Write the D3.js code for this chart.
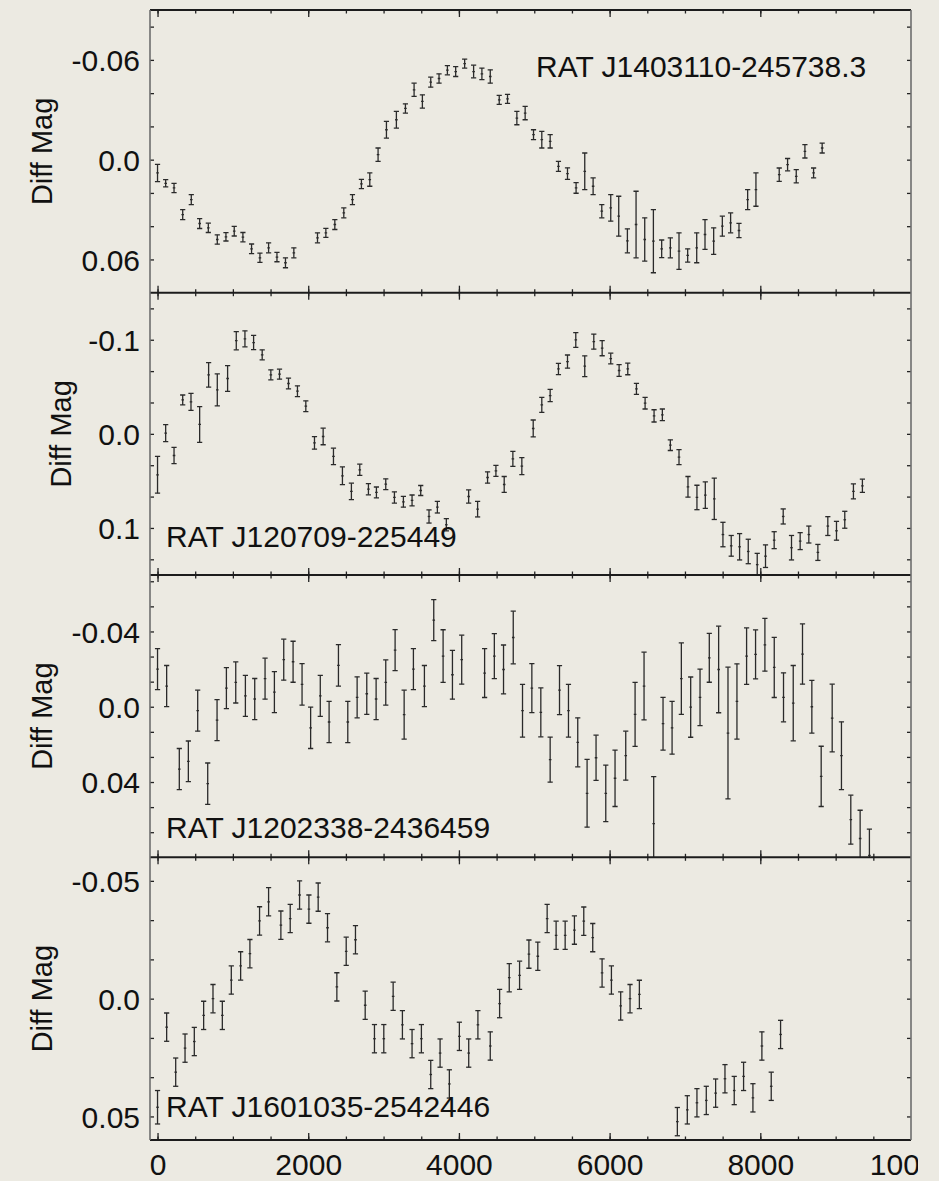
<!DOCTYPE html>
<html>
<head>
<meta charset="utf-8">
<script src="https://cdn.jsdelivr.net/npm/d3@7"></script>
<style>
  html, body { margin: 0; padding: 0; background: #ECEAE2; }
  svg { display: block; }
  text { font-family: "Liberation Sans", Arial, Helvetica, sans-serif; fill: #111; }
</style>
</head>
<body>
<svg id="chart" width="939" height="1181"></svg>
<script>
// ---- Light curves: time (s), differential magnitude, 1-sigma error ----
const p1Name = "RAT J1403110-245738.3";
const p1Time = [0,108,219,334,448,559,674,793,908,1018,1133,1248,1359,1474,1585,1698,1809,
  2123,2234,2353,2472,2587,2706,2817,2927,3038,3170,3290,3405,3515,3626,3736,3847,3957,4076,
  4195,4305,4416,
  4535,4645,4769,4879,4990,5100,5211,5321,5441,5555,5670,5781,5896,6015,6121,6236,6351,6466,6581,6691,6806,6921,7036,7156,7266,7381,7496,7606,7717,7832,7942,
  8251,8362,8477,8592,8707,8821];
const p1Mag = [0.008,0.0142,0.017,0.033,0.024,0.0384,0.041,0.048,0.0464,0.043,0.0466,0.0536,0.059,0.053,0.0586,0.062,0.056,
  0.047,0.044,0.039,0.032,0.024,0.0146,0.012,-0.003,-0.018,-0.024,-0.0308,-0.042,-0.035,-0.0466,-0.0488,-0.0538,-0.053,-0.0578,
  -0.053,-0.0516,-0.05,
  -0.036,-0.0366,-0.025,-0.028,-0.015,-0.012,-0.011,0.004,0.0084,0.017,0.007,0.016,0.031,0.029,0.034,0.0488,0.039,0.048,0.049,0.0536,0.053,0.055,0.0576,0.053,0.045,0.049,0.04,0.038,0.0426,0.024,0.018,
  0.009,0.003,0.01,-0.005,0.008,-0.007];
const p1Err = [0.0052,0.0022,0.0028,0.003,0.003,0.003,0.0028,0.0028,0.0025,0.0029,0.0028,0.0029,0.0028,0.003,0.0028,0.003,0.003,
  0.003,0.0027,0.003,0.003,0.003,0.0028,0.004,0.004,0.005,0.005,0.0028,0.004,0.004,0.003,0.0028,0.0028,0.003,0.0027,
  0.0038,0.0035,0.004,
  0.0027,0.0027,0.004,0.004,0.003,0.005,0.004,0.003,0.0035,0.0032,0.011,0.005,0.004,0.008,0.012,0.0072,0.02,0.013,0.019,0.0053,0.006,0.011,0.004,0.009,0.009,0.008,0.006,0.006,0.0043,0.006,0.01,
  0.004,0.0037,0.004,0.004,0.003,0.003];

const p2Name = "RAT J120709-225449";
const p2Time = [0,108,219,334,444,559,678,793,930,1045,1160,1275,1389,1504,1619,1738,1857,1968,2083,2198,2335,2454,2573,2684,2799,2905,3029,3144,3263,3378,3493,3603,3714,3833,
  4129,4248,4380,4491,4601,4716,4835,4986,5100,5211,5321,5441,5551,5670,5790,5901,6015,6126,6241,6356,6471,6590,6700,6806,6921,7040,7159,7270,7389,7504,7614,7725,7840,7959,8069,8184,8304,8414,8529,8644,8764,8896,9011,9121,9236,9355];
const p2Mag = [0.0435,-0.0007,0.023,-0.036,-0.034,-0.01,-0.0627,-0.0467,-0.0588,-0.099,-0.101,-0.097,-0.084,-0.0627,-0.0634,-0.0535,-0.0453,-0.0294,0.0096,0.0028,0.024,0.0446,0.0612,0.0382,0.0588,0.0623,0.0535,0.0676,0.0722,0.0708,0.0602,0.0878,0.0779,0.0966,
  0.0666,0.08,0.0464,0.0393,0.0538,0.0266,0.0343,-0.0057,-0.0308,-0.0407,-0.069,-0.0768,-0.0998,-0.0719,-0.098,-0.091,-0.08,-0.0673,-0.069,-0.0478,-0.0326,-0.0191,-0.0202,0.012,0.0248,0.0563,0.0676,0.0651,0.069,0.107,0.119,0.12,0.125,0.139,0.13,0.113,0.0878,0.121,0.114,0.107,0.126,0.098,0.103,0.0913,0.0612,0.0552];
const p2Err = [0.0195,0.009,0.0087,0.0053,0.009,0.019,0.013,0.017,0.0136,0.0097,0.0085,0.0076,0.0053,0.0053,0.0053,0.0058,0.0057,0.0057,0.0067,0.0088,0.0088,0.0094,0.0088,0.006,0.006,0.0058,0.0057,0.006,0.0057,0.0058,0.0053,0.007,0.0062,0.0065,
  0.007,0.0083,0.006,0.0058,0.0085,0.008,0.009,0.009,0.008,0.0065,0.006,0.007,0.0078,0.011,0.008,0.008,0.0057,0.0062,0.0062,0.0058,0.0062,0.0065,0.0062,0.0057,0.008,0.011,0.013,0.014,0.022,0.013,0.011,0.014,0.013,0.012,0.012,0.009,0.008,0.013,0.009,0.009,0.0085,0.01,0.01,0.009,0.008,0.007];

const p3Name = "RAT J1202338-2436459";
const p3Time = [0,121,289,409,533,666,790,914,1038,1166,1290,1427,1551,1675,1799,1918,2032,2160,2277,2401,2525,2649,2777,2901,3029,3153,3273,3396,3542,3666,3790,3914,4037,
  4341,4470,4592,4721,4844,4968,5087,5211,5335,5454,5577,5701,5820,5949,6072,6214,6338,6457,6585,6709,6829,6952,7076,7200,7323,7447,7571,7690,7818,7937,8061,8185,8308,8437,8560,8684,8808,8954,9077,9201,9325,9448];
const p3Mag = [-0.02,-0.011,0.0331,0.029,0.0021,0.0409,0.0071,-0.0099,-0.0129,-0.0058,-0.0041,-0.0149,-0.0078,-0.025,-0.0239,-0.0119,0.0112,-0.0058,0.0081,-0.022,0.0081,-0.005,-0.0069,-0.0041,-0.0129,-0.0301,0.0042,-0.02,-0.011,-0.046,-0.0269,-0.017,-0.025,
  -0.0179,-0.0269,-0.0198,-0.0368,0.0021,-0.0099,0.003,0.0281,-0.0088,0.0021,0.0189,0.046,0.0271,0.046,0.038,0.026,0.0041,-0.011,0.0621,0.009,0.0112,-0.0149,0.0002,-0.005,-0.026,-0.0198,0.014,-0.0028,-0.0269,-0.0278,-0.0329,-0.0209,-0.005,-0.0019,-0.028,0,0.037,0.006,0.026,0.06,0.07,0.079];
const p3Err = [0.0109,0.0109,0.0109,0.0108,0.0109,0.011,0.0109,0.0109,0.0109,0.0109,0.0109,0.0109,0.0109,0.0109,0.0109,0.011,0.011,0.0109,0.011,0.011,0.011,0.0109,0.011,0.0109,0.012,0.0109,0.013,0.0109,0.0109,0.0109,0.014,0.013,0.013,
  0.013,0.012,0.013,0.014,0.014,0.013,0.013,0.012,0.013,0.014,0.013,0.018,0.012,0.015,0.015,0.013,0.017,0.018,0.025,0.014,0.014,0.019,0.016,0.015,0.013,0.023,0.035,0.02,0.015,0.013,0.014,0.016,0.013,0.02,0.016,0.014,0.016,0.018,0.018,0.013,0.015,0.014];

const p4Name = "RAT J1601035-2542446";
const p4Time = [0,121,241,365,488,612,736,860,979,1103,1226,1354,1474,1637,1761,1885,2009,2132,2256,2380,2504,2627,2756,2879,3003,3127,3250,3378,3502,3626,3750,3873,4006,4130,
  4252,4416,4540,4668,4805,4929,5047,5171,5290,5410,5533,5657,5776,5900,6024,6147,6271,6395,
  6899,7031,7159,7283,7407,7531,7654,7778,7902,8021,8145,8269];
const p4Mag = [0.0461,0.0121,0.0312,0.021,0.0182,0.0071,0,0.0071,-0.0079,-0.0139,-0.0191,-0.033,-0.0411,-0.0312,-0.034,-0.044,-0.038,-0.0431,-0.0301,-0.005,-0.0201,-0.025,0.0028,0.017,0.017,-0.001,0.0111,0.0191,0.017,0.0322,0.0231,0.0362,0.016,0.0231,
  0.0111,0.0201,0.0021,-0.0089,-0.0099,-0.0189,-0.018,-0.034,-0.0269,-0.0269,-0.0291,-0.0329,-0.0259,-0.0109,-0.0079,0.0031,0,-0.0018,
  0.0522,0.0472,0.0442,0.0432,0.0401,0.034,0.039,0.033,0.0421,0.0201,0.0372,0.0152];
const p4Err = [0.0071,0.006,0.006,0.006,0.006,0.006,0.006,0.006,0.006,0.006,0.006,0.006,0.006,0.006,0.006,0.006,0.006,0.006,0.006,0.006,0.006,0.006,0.006,0.006,0.006,0.006,0.006,0.006,0.006,0.006,0.006,0.006,0.006,0.006,
  0.006,0.006,0.006,0.006,0.006,0.006,0.006,0.006,0.006,0.006,0.006,0.006,0.006,0.006,0.006,0.006,0.006,0.006,
  0.006,0.006,0.006,0.006,0.006,0.006,0.006,0.006,0.006,0.006,0.006,0.006];

// ---- Axis definitions ----
const xDomain = [-100, 10000];
const xTickLabels = [0, 2000, 4000, 6000, 8000, 10000];
const xMinorStep = 500;

const yDomains = [[-0.09, 0.08], [-0.15, 0.15], [-0.07, 0.08], [-0.06, 0.06]];
const yMajorTicks = [[-0.06, 0, 0.06], [-0.1, 0, 0.1], [-0.04, 0, 0.04], [-0.05, 0, 0.05]];
const yTickLabels = [["-0.06", "0.0", "0.06"], ["-0.1", "0.0", "0.1"], ["-0.04", "0.0", "0.04"], ["-0.05", "0.0", "0.05"]];
const yMinorSteps = [0.02, 0.1 / 3, 0.04 / 3, 0.05 / 3];
const yAxisTitle = "Diff Mag";

// ---- Layout ----
const W = 939, H = 1181;
const plotLeft = 150, plotRight = 911;
const edges = [10, 292.7, 575, 857.3, 1140];
const titlePos = [[536, 77], [166, 547], [166, 838], [166, 1117]];
const yTitleX = [52, 71, 52, 52];

const svg = d3.select("#chart");
svg.append("rect").attr("width", W).attr("height", H).attr("fill", "#ECEAE2");
const defs = svg.append("defs");

const x = d3.scaleLinear().domain(xDomain).range([plotLeft, plotRight]);
const xMinor = d3.range(0, xDomain[1], xMinorStep);
const xMajor = xTickLabels.filter(v => v < xDomain[1]);

const panels = [
  { name: p1Name, t: p1Time, m: p1Mag, e: p1Err },
  { name: p2Name, t: p2Time, m: p2Mag, e: p2Err },
  { name: p3Name, t: p3Time, m: p3Mag, e: p3Err },
  { name: p4Name, t: p4Time, m: p4Mag, e: p4Err }
];

// strips the axis line and labels, keeping only styled tick marks
const tickStyle = sel => {
  sel.select(".domain").remove();
  sel.selectAll(".tick line").attr("stroke", "#222").attr("stroke-width", 1.3);
  sel.selectAll(".tick text").remove();
};

panels.forEach((p, i) => {
  const top = edges[i], bottom = edges[i + 1];
  const y = d3.scaleLinear().domain(yDomains[i]).range([top, bottom]);
  const g = svg.append("g").attr("class", "panel");

  defs.append("clipPath").attr("id", "clip" + i)
    .append("rect").attr("x", plotLeft).attr("y", top)
    .attr("width", plotRight - plotLeft).attr("height", bottom - top);

  // error bars with end caps and a small centre mark
  const pts = p.t.map((t, k) => ({ t, m: p.m[k], e: p.e[k] }));
  const bars = g.append("g").attr("clip-path", `url(#clip${i})`)
    .attr("stroke", "#2a2a2a").attr("stroke-width", 1.3).attr("fill", "none");
  const bar = bars.selectAll("g").data(pts).join("g");
  bar.append("line")
    .attr("x1", d => x(d.t)).attr("x2", d => x(d.t))
    .attr("y1", d => y(d.m - d.e)).attr("y2", d => y(d.m + d.e));
  bar.append("line")
    .attr("x1", d => x(d.t) - 2.6).attr("x2", d => x(d.t) + 2.6)
    .attr("y1", d => y(d.m - d.e)).attr("y2", d => y(d.m - d.e));
  bar.append("line")
    .attr("x1", d => x(d.t) - 2.6).attr("x2", d => x(d.t) + 2.6)
    .attr("y1", d => y(d.m + d.e)).attr("y2", d => y(d.m + d.e));
  bar.append("line")
    .attr("x1", d => x(d.t) - 1.3).attr("x2", d => x(d.t) + 1.3)
    .attr("y1", d => y(d.m)).attr("y2", d => y(d.m));

  // x ticks on top and bottom edges, pointing inward
  g.append("g").attr("transform", `translate(0,${top})`)
    .call(d3.axisTop(x).tickValues(xMinor).tickSize(-3.5)).call(tickStyle);
  g.append("g").attr("transform", `translate(0,${top})`)
    .call(d3.axisTop(x).tickValues(xMajor).tickSize(-7)).call(tickStyle);
  g.append("g").attr("transform", `translate(0,${bottom})`)
    .call(d3.axisBottom(x).tickValues(xMinor).tickSize(-3.5)).call(tickStyle);
  g.append("g").attr("transform", `translate(0,${bottom})`)
    .call(d3.axisBottom(x).tickValues(xMajor).tickSize(-7)).call(tickStyle);

  // y ticks on left and right edges, pointing inward
  const step = yMinorSteps[i];
  const yMinor = [];
  for (let k = -12; k <= 12; k++) {
    const v = yMajorTicks[i][1] + k * step;
    if (v > yDomains[i][0] + 1e-6 && v < yDomains[i][1] - 1e-6) yMinor.push(v);
  }
  g.append("g").attr("transform", `translate(${plotLeft},0)`)
    .call(d3.axisLeft(y).tickValues(yMinor).tickSize(-4)).call(tickStyle);
  g.append("g").attr("transform", `translate(${plotRight},0)`)
    .call(d3.axisRight(y).tickValues(yMinor).tickSize(-4)).call(tickStyle);

  // y tick labels
  const lab = g.append("g").attr("transform", `translate(${plotLeft},0)`)
    .call(d3.axisLeft(y).tickValues(yMajorTicks[i]).tickSize(0).tickPadding(10)
      .tickFormat((d, k) => yTickLabels[i][k]));
  lab.select(".domain").remove();
  lab.selectAll(".tick text").attr("font-size", 30).attr("fill", "#111")
    .attr("font-family", "Liberation Sans, Arial, sans-serif").attr("dy", "0.36em");

  // y axis title
  g.append("text")
    .attr("transform", `translate(${yTitleX[i]},${(top + bottom) / 2}) rotate(-90)`)
    .attr("text-anchor", "middle").attr("font-size", 29)
    .text(yAxisTitle);

  // object name
  g.append("text").attr("x", titlePos[i][0]).attr("y", titlePos[i][1])
    .attr("font-size", 30).text(p.name);
});

// frame: dark horizontal rules, grey verticals
const frame = svg.append("g");
edges.forEach(yy => {
  frame.append("line").attr("x1", plotLeft).attr("x2", plotRight)
    .attr("y1", yy).attr("y2", yy).attr("stroke", "#1c1c1c").attr("stroke-width", 2);
});
[plotLeft, plotRight].forEach(xx => {
  frame.append("line").attr("x1", xx).attr("x2", xx)
    .attr("y1", edges[0]).attr("y2", edges[4]).attr("stroke", "#6e6e6e").attr("stroke-width", 1.6);
});

// bottom x tick labels; the last one runs past the right edge of the figure
defs.append("clipPath").attr("id", "xlabClip")
  .append("rect").attr("x", 0).attr("y", -2).attr("width", 918).attr("height", 45);
const xAxisLab = svg.append("g").attr("transform", `translate(0,${edges[4]})`)
  .attr("clip-path", "url(#xlabClip)")
  .call(d3.axisBottom(x).tickValues(xTickLabels).tickSize(0).tickPadding(13.5).tickFormat(d3.format("d")));
xAxisLab.select(".domain").remove();
xAxisLab.selectAll(".tick text").attr("font-size", 30).attr("fill", "#111")
  .attr("font-family", "Liberation Sans, Arial, sans-serif");
</script>
</body>
</html>
